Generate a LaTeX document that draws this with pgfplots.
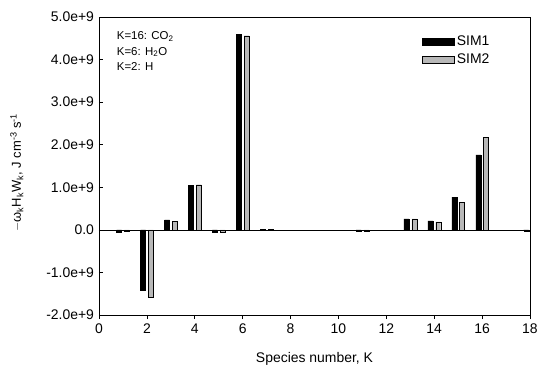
\documentclass[border=0pt]{standalone}
\usepackage{pgfplots}
\pgfplotsset{compat=1.18}
\usepackage{fontspec}
\setmainfont{Liberation Sans}
\begin{document}
\begin{tikzpicture}
\begin{axis}[
  name=ax,
  scale only axis,
  width=431bp, height=298bp,
  xmin=0, xmax=18, ymin=-2e9, ymax=5e9,
  xtick={0,2,...,18},
  ytick={-2e9,-1e9,0,1e9,2e9,3e9,4e9,5e9},
  yticklabels={-2.0e+9,-1.0e+9,0.0,1.0e+9,2.0e+9,3.0e+9,4.0e+9,5.0e+9},
  scaled y ticks=false,
  /pgf/number format/assume math mode=true,
  tick align=inside,
  xtick pos=bottom, ytick pos=left,
  major tick length=4bp,
  tick style={black, line width=0.6pt},
  axis line style={line width=0.9pt},
  tick label style={font=\fontsize{14}{16}\selectfont},
  yticklabel style={xshift=-1.5bp},
  xticklabel style={yshift=-1.5bp},
  xlabel={Species number, K},
  xlabel style={font=\fontsize{14}{16}\selectfont, at={(rel axis cs:0.5,-0.161)}, anchor=base},
  ylabel={$-$ω\textsubscript{k}H\textsubscript{k}W\textsubscript{k}, J cm\textsuperscript{-3} s\textsuperscript{-1}},
  ylabel style={font=\fontsize{13}{15}\selectfont, at={(rel axis cs:-0.181,0.478)}, anchor=base},
  ybar, bar width=5bp,
  clip=true,
  legend style={draw=none, fill=none, at={(axis cs:13.5,4.6e9)}, anchor=north west,
    font=\fontsize{14}{16}\selectfont, row sep=2.5bp, inner sep=0pt},
  legend image code/.code={\draw[#1, line width=0.5pt] (0bp,-3.5bp) rectangle (32bp,3.5bp);},
]
\addplot[fill=black, draw=black, bar shift=-3.8bp] coordinates {
 (1,-0.05e9) (2,-1.42e9) (3,0.235e9) (4,1.05e9) (5,-0.05e9) (6,4.6e9) (7,0.01e9)
 (11,-0.02e9) (13,0.26e9) (14,0.21e9) (15,0.77e9) (16,1.76e9) (18,-0.02e9)};
\addplot[fill=black!28, draw=black, bar shift=4bp] coordinates {
 (1,-0.02e9) (2,-1.58e9) (3,0.2e9) (4,1.06e9) (5,-0.06e9) (6,4.56e9) (7,0.01e9)
 (11,-0.02e9) (13,0.26e9) (14,0.19e9) (15,0.65e9) (16,2.18e9)};
\legend{SIM1,SIM2}
\draw[black, line width=0.6pt] (axis cs:0,0) -- (axis cs:18,0);
\node[anchor=north west, align=left, font=\fontsize{11.5}{15.5}\selectfont, inner sep=0pt]
  at (axis cs:0.74,4.66e9) {K=16: CO\textsubscript{2}\\K=6: H\textsubscript{2}O\\K=2: H};
\end{axis}
\pgfresetboundingbox
\path ([shift={(-99bp,-52bp)}]ax.south west) rectangle ([shift={(7bp,17bp)}]ax.north east);
\end{tikzpicture}
\end{document}
